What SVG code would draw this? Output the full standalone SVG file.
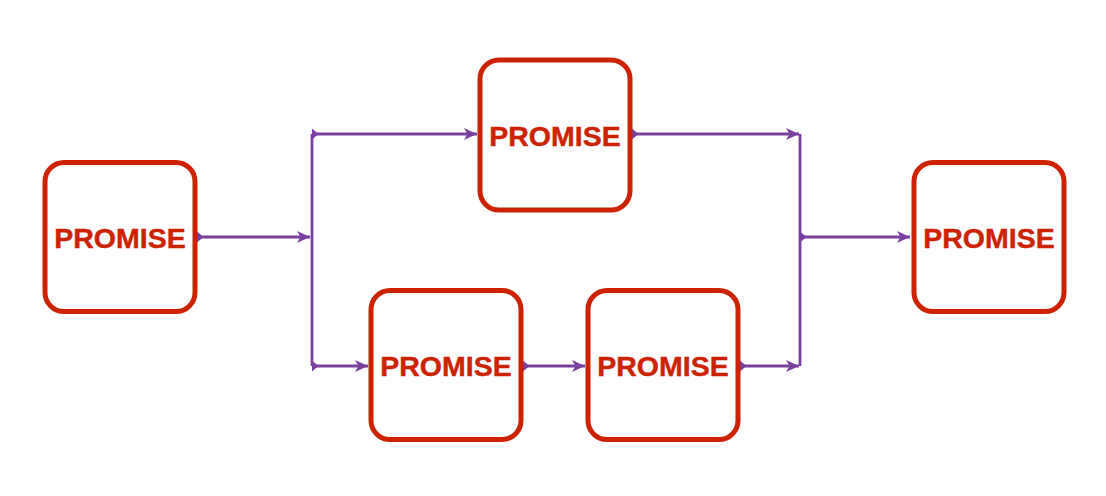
<svg xmlns="http://www.w3.org/2000/svg" width="1106" height="496" viewBox="0 0 1106 496">
<defs>
<style>
.box{fill:#ffffff;stroke:#cc2200;stroke-width:5}
.lbl{font-family:"Liberation Sans",Arial,sans-serif;font-weight:bold;font-size:28.5px;fill:#cc2200;stroke:#cc2200;stroke-width:0.4;text-anchor:middle}
.edge{fill:none;stroke:#7b3fa0;stroke-width:2.8}
.arr{marker-end:url(#end);marker-start:url(#start)}
</style>
<marker id="end" markerUnits="userSpaceOnUse" markerWidth="15" markerHeight="15" viewBox="0 0 15 15" refX="14" refY="7.5" orient="auto">
<path d="M1,1.5 L14,7.5 L1,13.5 L4.5,7.5 Z" fill="#7b3fa0"/>
</marker>
<marker id="start" markerUnits="userSpaceOnUse" markerWidth="8" markerHeight="13" viewBox="0 0 8 13" refX="0" refY="6.5" orient="auto">
<path d="M0,1 L6.5,6.5 L0,12 Z" fill="#7b3fa0"/>
</marker>
</defs>
<rect width="1106" height="496" fill="#ffffff"/>
<g id="connectors">
<path class="edge arr" d="M197,237 L310,237"/>
<path class="edge" d="M312,134 L312,366"/>
<path class="edge arr" d="M312,134 L477,134"/>
<path class="edge arr" d="M312,366 L368,366"/>
<path class="edge arr" d="M523,366 L585,366"/>
<path class="edge arr" d="M632,134 L799,134"/>
<path class="edge arr" d="M740,366 L799,366"/>
<path class="edge" d="M800,134 L800,366"/>
<path class="edge arr" d="M800,237 L910,237"/>
</g>
<g id="node1">
<rect class="box" x="45" y="162.5" width="150" height="149" rx="19"/>
<text class="lbl" x="120" y="248">PROMISE</text>
</g>
<g id="node2">
<rect class="box" x="480" y="60" width="150" height="150" rx="19"/>
<text class="lbl" x="555" y="146">PROMISE</text>
</g>
<g id="node3">
<rect class="box" x="371" y="290.5" width="150" height="149" rx="19"/>
<text class="lbl" x="446" y="376">PROMISE</text>
</g>
<g id="node4">
<rect class="box" x="588" y="290.5" width="150" height="149" rx="19"/>
<text class="lbl" x="663" y="376">PROMISE</text>
</g>
<g id="node5">
<rect class="box" x="914" y="162.5" width="150" height="149" rx="19"/>
<text class="lbl" x="989" y="248">PROMISE</text>
</g>
</svg>
